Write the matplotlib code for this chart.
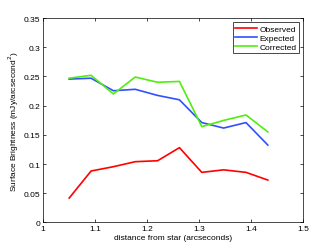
import matplotlib
matplotlib.use("Agg")
import matplotlib.pyplot as plt

distance = [1.05, 1.092, 1.135, 1.177, 1.22, 1.262, 1.305, 1.347, 1.39, 1.432]
observed = [0.0417, 0.088, 0.0954, 0.104, 0.1056, 0.128, 0.0857, 0.090, 0.0857, 0.0725]
expected = [0.2455, 0.247, 0.2255, 0.228, 0.2175, 0.210, 0.171, 0.1616, 0.171, 0.1325]
corrected = [0.247, 0.252, 0.220, 0.249, 0.240, 0.2415, 0.164, 0.1747, 0.184, 0.155]
xticks = [1, 1.1, 1.2, 1.3, 1.4, 1.5]
yticks = [0, 0.05, 0.1, 0.15, 0.2, 0.25, 0.3, 0.35]

plt.rcParams['font.family'] = ['Liberation Sans', 'DejaVu Sans']
plt.rcParams['font.size'] = 6

fig = plt.figure(figsize=(3.35, 2.51), dpi=100)
ax = fig.add_axes([0.129, 0.110, 0.776, 0.814])
ax.plot(distance, observed, color='#ff0000', lw=1.2, label='Observed')
ax.plot(distance, expected, color='#3050ff', lw=1.2, label='Expected')
ax.plot(distance, corrected, color='#50ee10', lw=1.2, label='Corrected')
ax.set_xlim(1, 1.5)
ax.set_ylim(0, 0.35)
ax.set_xticks(xticks)
ax.set_xticklabels(['1', '1.1', '1.2', '1.3', '1.4', '1.5'])
ax.set_yticks(yticks)
ax.set_yticklabels(['0', '0.05', '0.1', '0.15', '0.2', '0.25', '0.3', '0.35'])
ax.tick_params(direction='in', top=True, right=True, length=2.5, width=0.5, pad=2)
for s in ax.spines.values():
    s.set_linewidth(0.5)
ax.set_xlabel('distance from star (arcseconds)', labelpad=1)
ax.set_ylabel('Surface Brightness (mJy/arcsecond$^2$)', labelpad=2)
leg = ax.legend(loc='upper right', fancybox=False, edgecolor='black', framealpha=1,
                handlelength=2.6, borderpad=0.3, labelspacing=0.15, handletextpad=0.3,
                borderaxespad=0.5)
leg.get_frame().set_linewidth(0.5)
fig.savefig('out.png', dpi=100)
